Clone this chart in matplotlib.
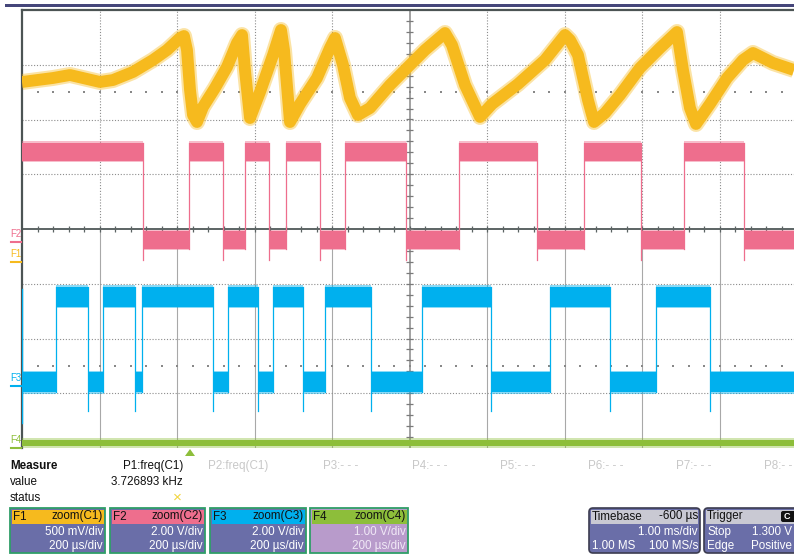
import matplotlib
matplotlib.use('Agg')
import matplotlib.pyplot as plt
from matplotlib.patches import Rectangle, FancyBboxPatch, Polygon
import numpy as np

plt.rcParams['font.family'] = ['Liberation Sans', 'DejaVu Sans']

W, H = 794, 557

# ---------------- data (screen divisions: x 0..10 -> 0..2000 us, y 0..8) ----------------
f1_t = [0.000, 0.400, 0.619, 1.006, 1.174, 1.432, 1.690, 1.871, 2.039, 2.090, 2.129, 2.168,
        2.206, 2.258, 2.335, 2.490, 2.645, 2.774, 2.839, 2.877, 2.942, 3.006, 3.071, 3.239,
        3.342, 3.381, 3.458, 3.587, 3.806, 3.974, 4.039, 4.142, 4.232, 4.335, 4.490, 4.748,
        5.006, 5.200, 5.458, 5.548, 5.716, 5.910, 6.065, 6.400, 6.748, 7.006, 7.071, 7.174,
        7.303, 7.381, 7.523, 7.716, 7.974, 8.232, 8.452, 8.529, 8.619, 8.697, 8.877, 9.097,
        9.303, 9.432, 9.690, 9.961]
f1_v = [6.685, 6.758, 6.813, 6.685, 6.721, 6.868, 7.087, 7.269, 7.489, 7.525, 7.269, 6.539,
        6.082, 5.954, 6.228, 6.575, 6.959, 7.397, 7.543, 6.904, 6.027, 6.265, 6.502, 7.178,
        7.635, 7.269, 5.954, 6.283, 6.758, 7.306, 7.489, 6.995, 6.393, 6.082, 6.210, 6.630,
        6.995, 7.269, 7.580, 7.361, 6.630, 6.046, 6.283, 6.648, 7.087, 7.543, 7.452, 7.178,
        6.356, 5.954, 6.119, 6.447, 6.941, 7.306, 7.598, 6.904, 6.210, 5.918, 6.283, 6.758,
        7.087, 7.215, 7.032, 6.904]

f2_edges = [1.56, 2.15, 2.59, 2.88, 3.19, 3.41, 3.85, 4.17, 4.95, 5.64, 6.65, 7.25, 7.99,
            8.54, 9.32]
f2_levels = (5.41, 3.80)      # (high, low); starts high

f3_edges = [0.44, 0.85, 1.05, 1.46, 1.55, 2.47, 2.66, 3.05, 3.24, 3.63, 3.91, 4.50, 5.16,
            6.05, 6.81, 7.59, 8.18, 8.88]
f3_levels = (2.76, 1.20)      # (high, low); starts low

f4_level = 0.09

measure_labels = ["P1:freq(C1)", "P2:freq(C1)", "P3:- - -", "P4:- - -", "P5:- - -",
                  "P6:- - -", "P7:- - -", "P8:- -"]
measure_value = "3.726893 kHz"

trace_boxes = [
    ("F1", "zoom(C1)", "500 mV/div", "200 µs/div"),
    ("F2", "zoom(C2)", "2.00 V/div", "200 µs/div"),
    ("F3", "zoom(C3)", "2.00 V/div", "200 µs/div"),
    ("F4", "zoom(C4)", "1.00 V/div", "200 µs/div"),
]

# ---------------- styles ----------------
C1 = '#F6BA1E'
C2 = '#EE6E8D'
C3 = '#00B0EE'
C4 = '#8DBE3A'
GRID = '#8c8c8c'
PANEL = '#6A6EA8'

fig = plt.figure(figsize=(W / 100, H / 100), dpi=100)
fig.patch.set_facecolor('white')

ax = fig.add_axes([22 / W, 1 - 448 / H, 775 / W, 438 / H])
ax.set_xlim(0, 10)
ax.set_ylim(0, 8)
ax.set_xticks([])
ax.set_yticks([])
for s in ('right', 'bottom'):
    ax.spines[s].set_visible(False)
for s in ('left', 'top'):
    ax.spines[s].set_color('#4c5454')
    ax.spines[s].set_linewidth(1.6)

dot = (0, (1.0, 1.6))
# vertical grid lines: dotted upper half, solid lower half
for x in range(1, 10):
    if x == 5:
        continue
    ax.plot([x, x], [4, 8], color=GRID, lw=0.8, ls=dot, zorder=1)
    ax.plot([x, x], [0, 4], color='#a8a8a8', lw=0.8, zorder=1)
for y in [1, 2, 3, 5, 6, 7]:
    ax.plot([0, 10], [y, y], color=GRID, lw=0.8, ls=dot, zorder=1)
# center lines with ticks
ax.plot([0, 10], [4, 4], color='#5c6464', lw=1.4, zorder=1)
ax.plot([5, 5], [0, 8], color='#9a9a9a', lw=1.3, zorder=1)
xt = np.arange(0.2, 10.0, 0.2)
ax.vlines(xt, 4 - 0.06, 4 + 0.06, color='#5c6464', lw=0.9, zorder=1)
yt = np.arange(0.2, 8.0, 0.2)
ax.hlines(yt, 5 - 0.045, 5 + 0.045, color='#7a7a7a', lw=0.9, zorder=1)
# small dot rows
for yy in (6.5, 1.5):
    ax.scatter(xt, [yy] * len(xt), s=1.2, marker='s', color='#888888', lw=0, zorder=1)


def digital(edges, levels, start_high, color, half, spike=0.0):
    hi, lo = levels
    t = [0.0] + list(edges) + [10.0]
    state = start_high
    for i in range(len(t) - 1):
        lvl = hi if state else lo
        ax.bar(t[i], 2 * (half + 0.03), bottom=lvl - half - 0.03, width=t[i + 1] - t[i],
               align='edge', color=color, alpha=0.45, lw=0, zorder=3)
        ax.bar(t[i], 2 * half, bottom=lvl - half, width=t[i + 1] - t[i],
               align='edge', color=color, lw=0, zorder=3)
        if i < len(t) - 2:
            a, b = (hi + half, lo - half - spike) if state else (lo - half, hi + half)
            ax.plot([t[i + 1], t[i + 1]], [a, b], color=color, lw=0.9, zorder=3)
        state = not state


ax.plot(f1_t, f1_v, color=C1, lw=11.5, alpha=0.4, solid_joinstyle='round',
        solid_capstyle='butt', zorder=4)
ax.plot(f1_t, f1_v, color=C1, lw=8.5, solid_joinstyle='round', solid_capstyle='butt', zorder=4)
digital(f2_edges, f2_levels, True, C2, 0.16, 0.2)
digital(f3_edges, f3_levels, False, C3, 0.18, 0.35)
ax.plot([0, 0], [f3_levels[1] - 0.75, f3_levels[0] + 0.15], color=C3, lw=1.0, zorder=3)
ax.fill_between([0, 10], f4_level - 0.06, f4_level + 0.06, color=C4, lw=0, zorder=3)
ax.fill_between([0, 10], f4_level - 0.09, f4_level + 0.09, color=C4, alpha=0.4, lw=0, zorder=3)

# ---------------- overlay in pixel coordinates ----------------
ov = fig.add_axes([0, 0, 1, 1], zorder=5)
ov.set_xlim(0, W)
ov.set_ylim(H, 0)
ov.axis('off')
ov.patch.set_alpha(0)

ov.add_patch(Rectangle((5, 4), W, 3, color='#45467A', lw=0))

# channel markers at left edge
for lab, ty, col in [("F2", 234, C2), ("F1", 254, C1), ("F3", 378, C3), ("F4", 440, C4)]:
    ov.text(10.5, ty, lab, color=col, fontsize=7, va='center', ha='left')
    ov.plot([11, 20.5], [ty + 8, ty + 8], color=col, lw=1.5)

# trigger marker
ov.add_patch(Polygon([(185, 456), (195, 456), (190, 449)], closed=True, color=C4, lw=0))

FS = 8.4
ov.text(10, 466, "Measure", fontsize=FS, fontweight='bold', va='center', color='#111111')
ov.text(10, 482, "value", fontsize=FS, va='center', color='#111111')
ov.text(10, 498, "status", fontsize=FS, va='center', color='#111111')
mx = [183, 208, 323, 412, 500, 588, 676, 764]
for i, (lab, x) in enumerate(zip(measure_labels, mx)):
    if i == 0:
        ov.text(x, 466, lab, fontsize=FS, va='center', ha='right', color='#111111')
    else:
        ov.text(x, 466, lab, fontsize=FS, va='center', ha='left', color='#c8c8c8')
ov.text(183, 482, measure_value, fontsize=FS, va='center', ha='right', color='#111111')
ov.text(177, 498, "×", fontsize=11, va='center', ha='center', color='#F2D43A')

# trace boxes
bx = [(10, 105), (110, 205), (210, 306), (310, 408)]
hcols = [C1, C2, C3, C4]
for (x0, x1), hc, (nm, src, l1, l2) in zip(bx, hcols, trace_boxes):
    body = PANEL if nm != "F4" else '#B89BCB'
    tcol = 'white' if nm != "F4" else '#f0e8f6'
    ov.add_patch(Rectangle((x0, 508), x1 - x0, 45, facecolor=body, edgecolor='#2f9e68', lw=1.3))
    ov.add_patch(Rectangle((x0 + 1.5, 509.5), x1 - x0 - 3, 14, facecolor=hc, lw=0))
    ov.text(x0 + 3, 516.5, nm, fontsize=FS, va='center', ha='left', color='#111111')
    ov.text(x1 - 2, 516.5, src, fontsize=FS, va='center', ha='right', color='#111111')
    ov.text(x1 - 2, 532, l1, fontsize=FS, va='center', ha='right', color=tcol)
    ov.text(x1 - 2, 546, l2, fontsize=FS, va='center', ha='right', color=tcol)

# timebase and trigger boxes
for x0, x1 in [(589, 700), (704, 812)]:
    ov.add_patch(FancyBboxPatch((x0, 508), x1 - x0, 45, boxstyle='round,pad=0,rounding_size=4',
                                facecolor=PANEL, edgecolor='#3c3c50', lw=1.2))
    ov.add_patch(Rectangle((x0 + 2, 509.5), x1 - x0 - 4, 14, facecolor='#C9C9D3', lw=0))
ov.text(592, 516.5, "Timebase", fontsize=FS, va='center', ha='left', color='#111111')
ov.text(698, 516.5, "-600 µs", fontsize=FS, va='center', ha='right', color='#111111')
ov.text(698, 532, "1.00 ms/div", fontsize=FS, va='center', ha='right', color='white')
ov.text(592, 546, "1.00 MS", fontsize=FS, va='center', ha='left', color='white')
ov.text(698, 546, "100 MS/s", fontsize=FS, va='center', ha='right', color='white')
ov.text(707, 516.5, "Trigger", fontsize=FS, va='center', ha='left', color='#111111')
ov.add_patch(FancyBboxPatch((781, 511), 16, 11, boxstyle='round,pad=0,rounding_size=2',
                            facecolor='#111111', lw=0))
ov.text(787, 516.5, "C", fontsize=6.5, va='center', ha='center', color='white', fontweight='bold')
ov.text(707, 532, "Stop", fontsize=FS, va='center', ha='left', color='white')
ov.text(792, 532, "1.300 V", fontsize=FS, va='center', ha='right', color='white')
ov.text(707, 546, "Edge", fontsize=FS, va='center', ha='left', color='white')
ov.text(792, 546, "Positive", fontsize=FS, va='center', ha='right', color='white')

fig.savefig('out.png', dpi=100, facecolor='white')
